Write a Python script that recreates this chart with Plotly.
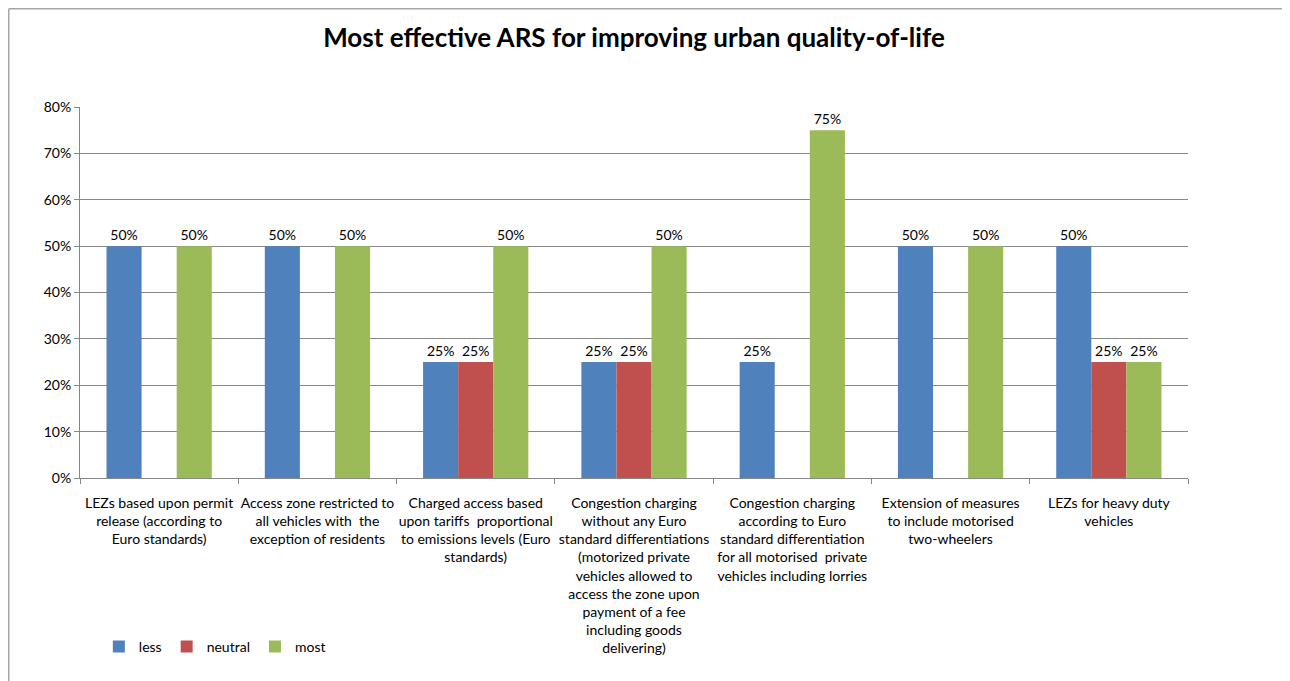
import plotly.graph_objects as go

categories = [
    "LEZs based upon permit<br>release (according to<br>Euro standards)",
    "Access zone restricted to<br>all vehicles with  the<br>exception of residents",
    "Charged access based<br>upon tariffs  proportional<br>to emissions levels (Euro<br>standards)",
    "Congestion charging<br>without any Euro<br>standard differentiations<br>(motorized private<br>vehicles allowed to<br>access the zone upon<br>payment of a fee<br>including goods<br>delivering)",
    "Congestion charging<br>according to Euro<br>standard differentiation<br>for all motorised  private<br>vehicles including lorries",
    "Extension of measures<br>to include motorised<br>two-wheelers",
    "LEZs for heavy duty<br>vehicles",
]
less = [0.50, 0.50, 0.25, 0.25, 0.25, 0.50, 0.50]
neutral = [None, None, 0.25, 0.25, None, None, 0.25]
most = [0.50, 0.50, 0.50, 0.50, 0.75, 0.50, 0.25]

series = [("less", less, "#4F81BD"), ("neutral", neutral, "#C0504D"), ("most", most, "#9BBB59")]

FONT = "Lato, 'Open Sans', sans-serif"

# figure is displayed with an 8px page offset; layout computed in figure pixels
W, H = 1282, 673
L, R, T, B = 72, 102, 99, 203
PW, PH = W - L - R, H - T - B


def px(fx):
    return (fx - L) / PW


def py(fy):
    return (H - B - fy) / PH


fig = go.Figure()
for name, vals, color in series:
    fig.add_trace(go.Bar(
        name=name, x=categories, y=vals, marker_color=color,
        marker_line_width=0,
        text=[f"{v:.0%}" if v is not None else "" for v in vals],
        textposition="outside", cliponaxis=False,
        textfont=dict(size=14, color="#000", family=FONT),
    ))

fig.update_layout(
    barmode="group", bargap=0.335, bargroupgap=0,
    width=W, height=H,
    margin=dict(l=L, r=R, t=T, b=B),
    paper_bgcolor="white", plot_bgcolor="white",
    font=dict(family=FONT, size=14, color="#000"),
    title=dict(text="<b>Most effective ARS for improving urban quality-of-life</b>",
               x=0.5, xref="paper", y=1 - 30 / H, yanchor="middle",
               font=dict(size=26, family=FONT, color="#000")),
    legend=dict(orientation="h", x=0.017, y=py(639), xanchor="left", yanchor="middle",
                font=dict(size=14, family=FONT), itemwidth=30, traceorder="normal"),
    yaxis=dict(range=[0, 0.8], dtick=0.1, tickformat=".0%", showgrid=True,
               gridcolor="#878787", gridwidth=1, showline=True, linecolor="#878787",
               ticks="outside", ticklen=5, tickcolor="#878787", zeroline=False,
               tickfont=dict(size=14)),
    xaxis=dict(showline=True, linecolor="#878787", ticks="outside", ticklen=5,
               tickcolor="#878787", tickson="boundaries", tickangle=0,
               ticklabelstandoff=12, tickfont=dict(size=14)),
    shapes=[
        dict(type="line", xref="paper", yref="paper",
             x0=px(0.75), x1=px(W), y0=py(0.75), y1=py(0.75),
             line=dict(color="#a6a6a6", width=1.5)),
        dict(type="line", xref="paper", yref="paper",
             x0=px(0.75), x1=px(0.75), y0=py(0.75), y1=py(H),
             line=dict(color="#a6a6a6", width=1.5)),
    ],
)

fig.write_html("out.html")
